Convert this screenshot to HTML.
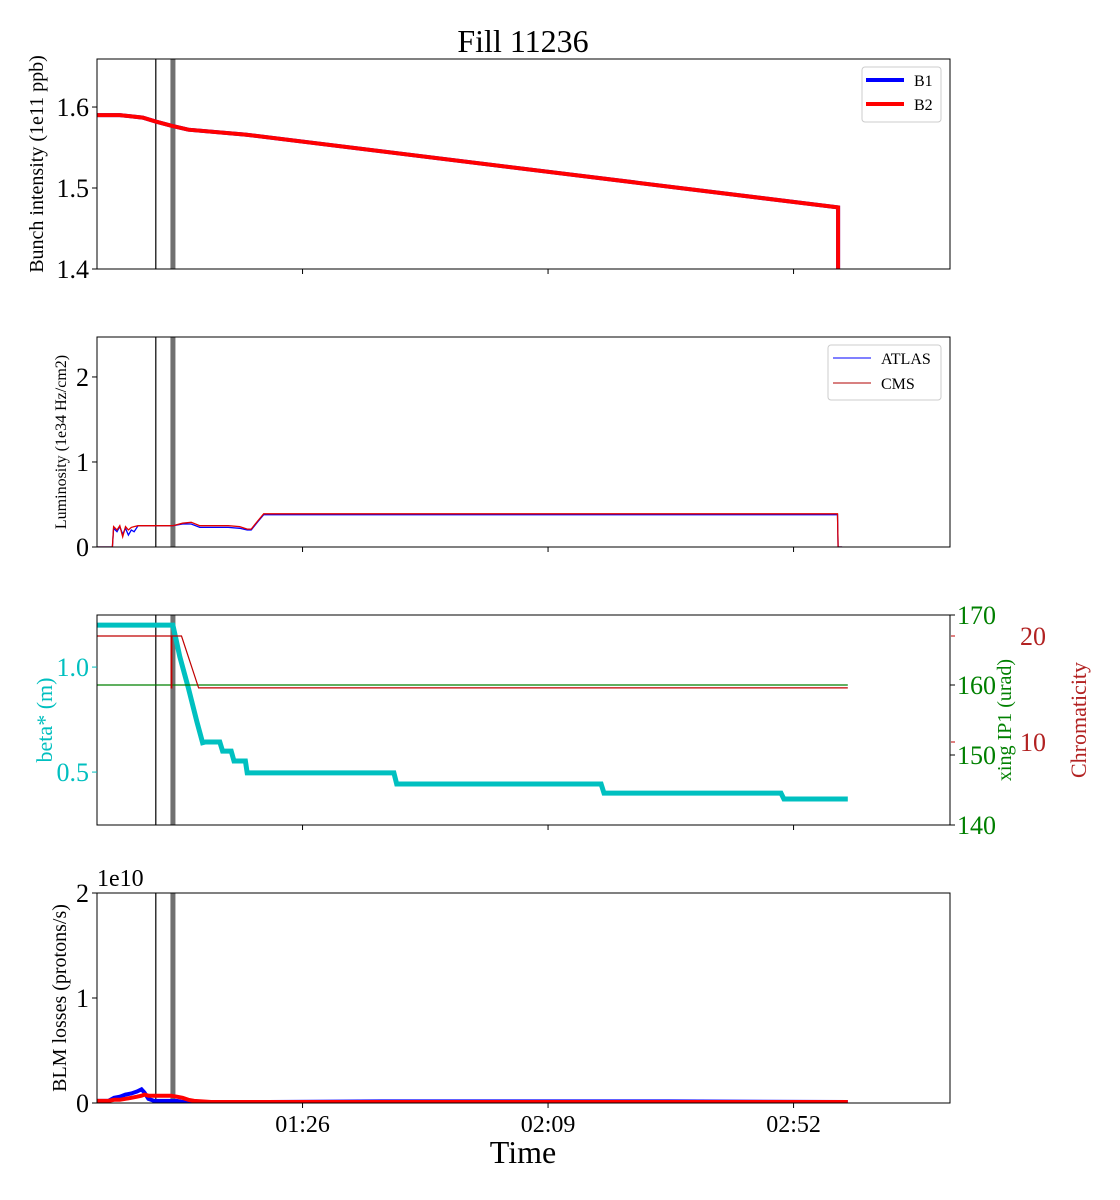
<!DOCTYPE html>
<html><head><meta charset="utf-8"><style>
html,body{margin:0;padding:0;background:#fff;}
svg{display:block;font-family:"Liberation Serif","DejaVu Serif",serif;}
</style></head><body>
<svg id="c" width="1120" height="1200" xmlns="http://www.w3.org/2000/svg"></svg>
<script>
// time in minutes since 00:00
const timeTicks=[86,129,172];
const timeTickLabels=["01:26","02:09","02:52"];
const markerTimes=[60.3,63.3];
// panel 1: bunch intensity
const b2Times=[50,54,58,60.3,63,66,76,179.8,179.8];
const b2Vals=[1.59,1.59,1.587,1.582,1.577,1.572,1.566,1.476,1.38];
const b1Times=[50,54,58,60.3,63,66,76,179.8,179.8];
const b1Vals=[1.59,1.59,1.587,1.582,1.577,1.572,1.566,1.476,1.38];
const intTicks=[1.4,1.5,1.6];
// panel 2: luminosity
const lumiTimes=[50,52.7,52.9,53.5,54,54.5,55,55.5,56,56.5,57.2,60,63.3,65,66.5,68,70,73,75,76.3,77,78.2,79.2,80.5,100,130,160,179.7,179.8,180.5];
const atlasVals=[0,0,0.22,0.18,0.24,0.15,0.22,0.14,0.2,0.18,0.25,0.25,0.25,0.27,0.27,0.23,0.23,0.23,0.22,0.2,0.2,0.3,0.38,0.38,0.38,0.38,0.38,0.38,0,0];
const cmsVals=[0,0,0.24,0.2,0.25,0.12,0.24,0.2,0.23,0.24,0.25,0.25,0.25,0.28,0.29,0.25,0.25,0.25,0.24,0.21,0.21,0.31,0.39,0.39,0.39,0.39,0.39,0.39,0,0];
const lumiTicks=[0,1,2];
// panel 3: beta*, crossing, chroma
const betaTimes=[50,63.3,64.5,66,67.5,68.5,69,71.5,72,73.5,74,76,76.3,102,102.5,138.3,138.8,169.8,170.3,181.5];
const betaVals=[1.2,1.2,1.05,0.9,0.74,0.64,0.643,0.643,0.6,0.6,0.553,0.553,0.496,0.496,0.443,0.443,0.4,0.4,0.372,0.372];
const xingTimes=[50,181.5];
const xingVals=[160,160];
const chromaTimes=[50,63.0,63.0,63.1,63.1,64.8,67.8,181.5];
const chromaVals=[20,20,15.1,15.1,20,20,15.1,15.1];
const betaTicks=[0.5,1.0];
const xingTicks=[140,150,160,170];
const chromaTicks=[10,20];
// panel 4: BLM losses (units 1e10)
const blmTimes=[50,52,53,54,55,56,57,57.8,58.3,59,60,61,62,63,64,65,66,67,70,80,100,120,150,181.5];
const blmB1=[0.02,0.02,0.05,0.06,0.08,0.09,0.11,0.13,0.1,0.04,0.02,0.02,0.02,0.02,0.02,0.01,0.01,0.01,0.01,0.01,0.015,0.015,0.015,0.01];
const blmB2=[0.02,0.02,0.03,0.03,0.04,0.05,0.06,0.07,0.08,0.07,0.07,0.07,0.07,0.07,0.06,0.05,0.03,0.02,0.01,0.01,0.01,0.01,0.01,0.01];
const blmTicks=[0,1,2];

const svg=document.getElementById('c');
const NS='http://www.w3.org/2000/svg';
function mk(tag,attrs,parent){const e=document.createElementNS(NS,tag);for(const k in attrs)e.setAttribute(k,attrs[k]);(parent||svg).appendChild(e);return e;}
const X0=97,X1=950,T0=50,T1=199.4;
const x=t=>X0+(t-T0)*(X1-X0)/(T1-T0);
function yScale(top,bot,vmin,vmax){return v=>bot-(v-vmin)*(bot-top)/(vmax-vmin);}
function path(ts,vs,ys){return ts.map((t,i)=>(i?'L':'M')+x(t).toFixed(1)+','+ys(vs[i]).toFixed(1)).join(' ');}
function clip(id,top,bot){const cp=mk('clipPath',{id:id});mk('rect',{x:X0,y:top,width:X1-X0,height:bot-top},cp);}
function frame(top,bot,name){const r=mk('rect',{x:X0,y:top,width:X1-X0,height:bot-top,fill:'none',stroke:'#000','stroke-width':1});}
function markers(top,bot,g){
  const l1=mk('line',{x1:x(markerTimes[0]),x2:x(markerTimes[0]),y1:top,y2:bot,stroke:'#000','stroke-width':1.2},g);
  
  const l2=mk('line',{x1:x(markerTimes[1]),x2:x(markerTimes[1]),y1:top,y2:bot,stroke:'#707070','stroke-width':5},g);
  
}
function xticks(bot,labels){
  timeTicks.forEach((t,i)=>{
    mk('line',{x1:x(t),x2:x(t),y1:bot,y2:bot+5,stroke:'#000'});
    if(labels){const tx=mk('text',{x:x(t),y:bot+29,'font-size':24,'text-anchor':'middle'});tx.textContent=timeTickLabels[i];
      }
  });
}
function yticks(ticks,ys,fmt,color){
  ticks.forEach(v=>{mk('line',{x1:X0-5,x2:X0,y1:ys(v),y2:ys(v),stroke:color||'#000'});
    const tx=mk('text',{x:X0-8,y:ys(v)+9,'font-size':26,'text-anchor':'end',fill:color||'#000'});tx.textContent=fmt(v);
    });
}
function ylabel(txt,cx,cy,size,color,name){const t=mk('text',{x:cx,y:cy,'font-size':size,'text-anchor':'middle',fill:color||'#000',transform:`rotate(-90 ${cx} ${cy})`});t.textContent=txt;}

// title
const title=mk('text',{x:523,y:52,'font-size':32,'text-anchor':'middle'});title.textContent='Fill 11236';


// Panel 1
{const top=59,bot=269;const ys=yScale(top,bot,1.4,1.6593);clip('c1',top,bot);
 const g=mk('g',{'clip-path':'url(#c1)'});
 markers(top,bot,g);
 const p1=mk('path',{d:path(b1Times,b1Vals,ys),fill:'none',stroke:'#0000ff','stroke-width':4},g);
 const p2=mk('path',{d:path(b2Times,b2Vals,ys),fill:'none',stroke:'#ff0000','stroke-width':4},g);
 frame(top,bot,'intensity-axes');xticks(bot,false);yticks(intTicks,ys,v=>v.toFixed(1));
 ylabel('Bunch intensity (1e11 ppb)',43,164,20,'#000','intensity-y-title');
 const lg=mk('g',{});
 mk('rect',{x:862,y:67,width:79,height:55,rx:3,fill:'#fff',stroke:'#ccc'},lg);
 mk('line',{x1:866,x2:904,y1:80,y2:80,stroke:'#0000ff','stroke-width':4},lg);
 mk('line',{x1:866,x2:904,y1:104,y2:104,stroke:'#ff0000','stroke-width':4},lg);
 let t=mk('text',{x:914,y:86,'font-size':16},lg);t.textContent='B1';
 t=mk('text',{x:914,y:110,'font-size':16},lg);t.textContent='B2';}

// Panel 2
{const top=337,bot=547;const ys=yScale(top,bot,0,2.47);clip('c2',top,bot);
 const g=mk('g',{'clip-path':'url(#c2)'});
 markers(top,bot,g);
 const a=mk('path',{d:path(lumiTimes,atlasVals,ys),fill:'none',stroke:'#0000ff','stroke-width':1.3},g);
 const c=mk('path',{d:path(lumiTimes,cmsVals,ys),fill:'none',stroke:'#e00000','stroke-width':1.3},g);
 frame(top,bot,'luminosity-axes');xticks(bot,false);yticks(lumiTicks,ys,v=>String(v));
 ylabel('Luminosity (1e34 Hz/cm2)',66,442,16,'#000','luminosity-y-title');
 const lg=mk('g',{});
 mk('rect',{x:828,y:345,width:113,height:55,rx:3,fill:'#fff',stroke:'#ccc'},lg);
 mk('line',{x1:833,x2:871,y1:358,y2:358,stroke:'#0000ff','stroke-width':1},lg);
 mk('line',{x1:833,x2:871,y1:383,y2:383,stroke:'#b00000','stroke-width':1},lg);
 let t=mk('text',{x:881,y:364,'font-size':16},lg);t.textContent='ATLAS';
 t=mk('text',{x:881,y:389,'font-size':16},lg);t.textContent='CMS';}

// Panel 3
{const top=615,bot=825;const yb=yScale(top,bot,0.248,1.248);const yx=yScale(top,bot,140,170);const yc=v=>742-(v-10)*10.6;clip('c3',top,bot);
 const g=mk('g',{'clip-path':'url(#c3)'});
 markers(top,bot,g);
 const b=mk('path',{d:path(betaTimes,betaVals,yb),fill:'none',stroke:'#00c0c0','stroke-width':5},g);
 const xg=mk('path',{d:path(xingTimes,xingVals,yx),fill:'none',stroke:'#008000','stroke-width':1.2},g);
 const ch=mk('path',{d:path(chromaTimes,chromaVals,yc),fill:'none',stroke:'#c00000','stroke-width':1.2},g);
 frame(top,bot,'optics-axes');xticks(bot,false);yticks(betaTicks,yb,v=>v.toFixed(1),'#00bfbf');
 xingTicks.forEach(v=>{mk('line',{x1:X1,x2:X1+5,y1:yx(v),y2:yx(v),stroke:'#000'});
   const t=mk('text',{x:X1+7,y:yx(v)+9,'font-size':26,fill:'#008000'});t.textContent=v;});
 chromaTicks.forEach(v=>{mk('line',{x1:X1+1,x2:X1+5,y1:yc(v),y2:yc(v),stroke:'#c00000'});
   const t=mk('text',{x:1020,y:yc(v)+9,'font-size':26,fill:'#b22222'});t.textContent=v;});
 ylabel('beta* (m)',52,720,22,'#00bfbf','beta-y-title');
 ylabel('xing IP1 (urad)',1011,720,20,'#008000','xing-y-title');
 ylabel('Chromaticity',1086,720,22,'#b22222','chroma-y-title');}

// Panel 4
{const top=893,bot=1103;const ys=yScale(top,bot,0,2);clip('c4',top,bot);
 const g=mk('g',{'clip-path':'url(#c4)'});
 markers(top,bot,g);
 const a=mk('path',{d:path(blmTimes,blmB1,ys),fill:'none',stroke:'#0000ff','stroke-width':4},g);
 const c=mk('path',{d:path(blmTimes,blmB2,ys),fill:'none',stroke:'#ff0000','stroke-width':4},g);
 frame(top,bot,'blm-axes');xticks(bot,true);yticks(blmTicks,ys,v=>String(v));
 const e=mk('text',{x:97,y:886,'font-size':24});e.textContent='1e10';
 ylabel('BLM losses (protons/s)',66,998,20,'#000','blm-y-title');
 const xt=mk('text',{x:523,y:1163,'font-size':32,'text-anchor':'middle'});xt.textContent='Time';}
</script>
</body></html>
